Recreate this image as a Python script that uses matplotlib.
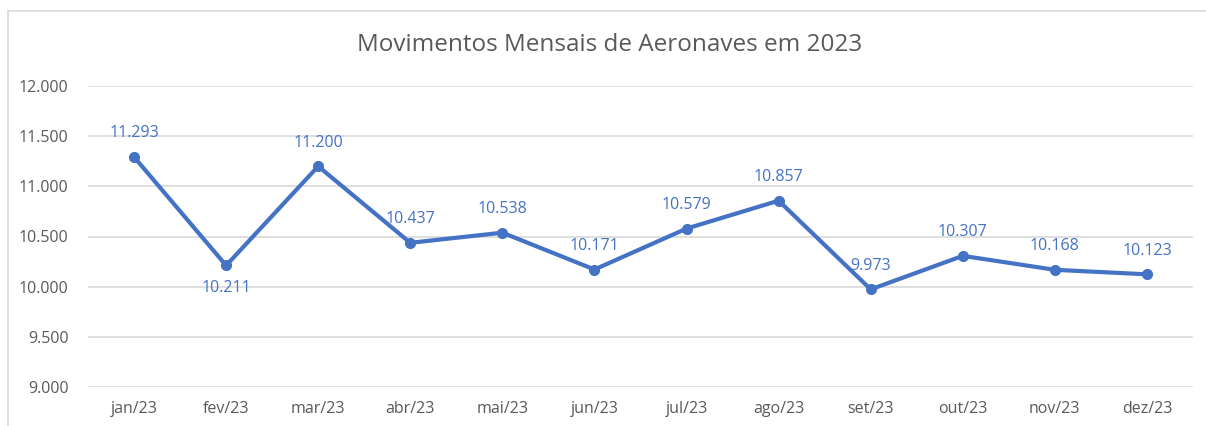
import matplotlib.pyplot as plt
from matplotlib.lines import Line2D

months = ["jan/23", "fev/23", "mar/23", "abr/23", "mai/23", "jun/23",
          "jul/23", "ago/23", "set/23", "out/23", "nov/23", "dez/23"]
movements = [11293, 10211, 11200, 10437, 10538, 10171,
             10579, 10857, 9973, 10307, 10168, 10123]
below = ["fev/23"]
yticks = [9000, 9500, 10000, 10500, 11000, 11500, 12000]

blue = "#4472c4"
gray = "#595959"
plt.rcParams['font.family'] = ['Open Sans', 'DejaVu Sans']


def fmt(v):
    return f"{v:,}".replace(",", ".")


fig = plt.figure(figsize=(12.06, 4.26), dpi=100)
# chart border (cropped at right and bottom)
bx, by = 8 / 1206, 1 - 11 / 426
fig.lines.append(Line2D([bx, bx], [0, by], transform=fig.transFigure,
                        color="#d9d9d9", linewidth=1.2))
fig.lines.append(Line2D([bx, 1], [by, by], transform=fig.transFigure,
                        color="#d9d9d9", linewidth=1.2))
ax = fig.add_axes([88 / 1206, 1 - 387 / 426, (1193 - 88) / 1206, (387 - 86) / 426])

x = list(range(len(months)))
ax.plot(x, movements, color=blue, linewidth=3, marker="o", markersize=7, zorder=3)
for i, v in enumerate(movements):
    dy = -16 if months[i] in below else 17
    ax.annotate(fmt(v), (i, v), textcoords="offset points", xytext=(0, dy),
                ha="center", va="center", color=blue, fontsize=11.5)

ax.set_xlim(-0.5, len(months) - 0.5)
ax.set_ylim(9000, 12000)
ax.set_yticks(yticks)
ax.set_yticklabels([fmt(t) for t in yticks])
ax.set_xticks(x)
ax.set_xticklabels(months)
ax.grid(axis="y", color="#d9d9d9", linewidth=1.2)
ax.set_axisbelow(True)
for s in ax.spines.values():
    s.set_visible(False)
ax.tick_params(length=0, colors=gray, labelsize=11.5)
ax.tick_params(axis="y", pad=14)
ax.tick_params(axis="x", pad=10)

fig.text(610 / 1206, 1 - 45 / 426, "Movimentos Mensais de Aeronaves em 2023",
         ha="center", va="center", fontsize=17.5, color=gray)

fig.savefig("out.png", dpi=100)
